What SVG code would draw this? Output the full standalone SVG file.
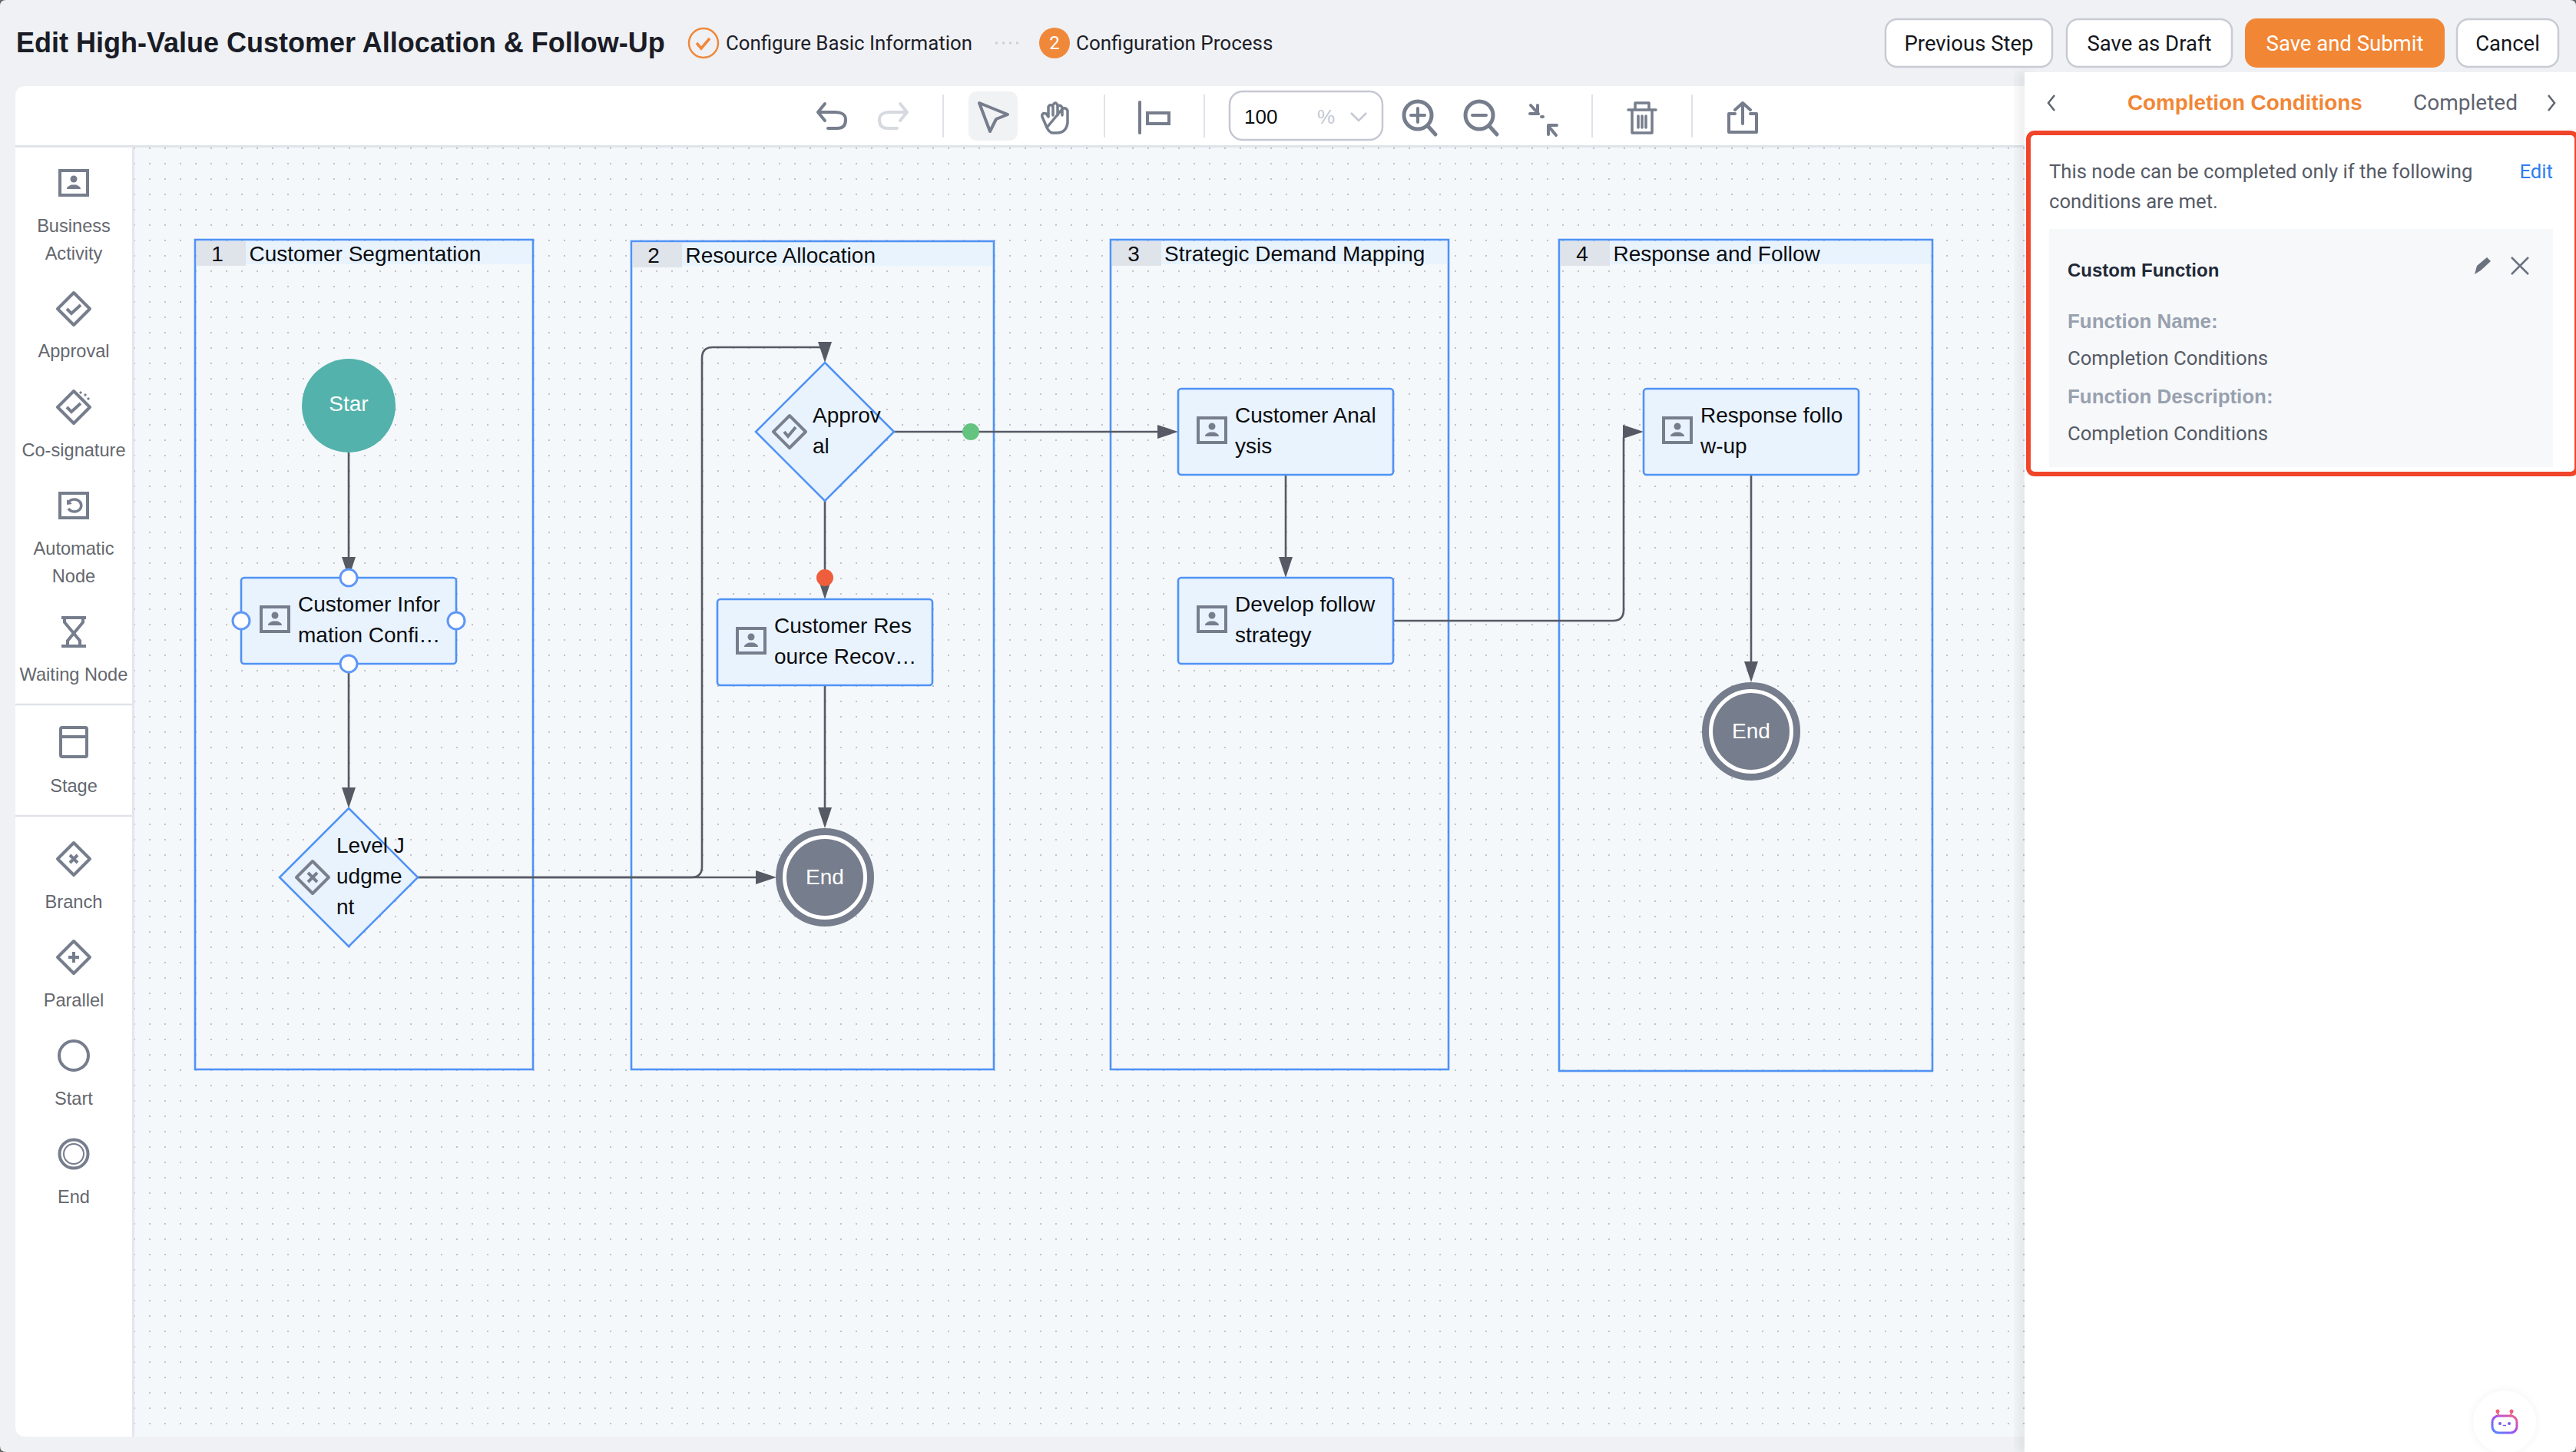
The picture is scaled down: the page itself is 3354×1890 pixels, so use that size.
<svg xmlns="http://www.w3.org/2000/svg" width="3354" height="1890" viewBox="0 0 3354 1890">
<style>
text{font-family:"Liberation Sans",Arial,sans-serif}
.ui{font-family:Roboto,"Liberation Sans",sans-serif}
.lane{fill:none;stroke:#5092f5;stroke-width:2.6}
.lh{fill:#e8f3fe}
.ln{fill:#dfe3ea}
.t{font-size:28px;fill:#0c0d10}
.tc{text-anchor:middle}
.node{fill:#e9f3fe;stroke:#5092f5;stroke-width:2.6}
.port{fill:#fff;stroke:#5f97f7;stroke-width:3}
.conn{fill:none;stroke:#565a64;stroke-width:2.6;marker-end:url(#arrow)}
.ic{fill:none;stroke:#767d8c;stroke-width:4}
.icf{fill:#767d8c}
.sb{font-size:23.6px;fill:#64676e;text-anchor:middle}
.sep{stroke:#dfe2e8;stroke-width:2}
.tool{fill:none;stroke:#767d8c;stroke-width:4;stroke-linecap:round;stroke-linejoin:round}
.btn{fill:#fff;stroke:#c8cbd4;stroke-width:2.5}
.bt{font-size:27.5px;fill:#15171c;text-anchor:middle}
.pt{font-size:25.7px;fill:#565b66}
.pl{font-size:25.9px;fill:#98a1af;font-weight:700}
.end-o{fill:#fff;stroke:#767d8c;stroke-width:9}
.end-i{fill:#767d8c}
.wt{font-size:28px;fill:#fff;text-anchor:middle}
</style>
<defs>
<pattern id="dots" x="14" y="12" width="20" height="20" patternUnits="userSpaceOnUse"><rect width="2" height="2" fill="#bfc3ca"/></pattern>
<marker id="arrow" markerUnits="userSpaceOnUse" markerWidth="27" markerHeight="18" refX="15" refY="9" orient="auto"><path d="M0 0L27 9L0 18Z" fill="#565a64"/></marker>
<g id="person"><rect x="2" y="2" width="36" height="32" class="ic"/><circle cx="20" cy="13" r="4.500000" class="icf"/><path d="M11 26c0-3 3-4 6-5.500000h6c3 1.500000 6 2.500000 6 5.500000z" class="icf"/></g>
<linearGradient id="bot" x1="0" y1="1" x2="1" y2="0"><stop offset="0" stop-color="#4a8cff"/><stop offset=".5" stop-color="#a04ff0"/><stop offset="1" stop-color="#f0608a"/></linearGradient>
<filter id="soft" x="-20%" y="-20%" width="140%" height="140%"><feGaussianBlur stdDeviation="6"/></filter>
</defs>

<rect width="3354" height="1890" fill="#eff1f4"/>
<g id="canvas">
<path d="M34 112H2700V1870H34Q20 1870 20 1856V126Q20 112 34 112Z" fill="#fff"/>
<rect x="174" y="192" width="2520" height="1678" fill="#f4f8fb"/>
<rect x="174" y="192" width="2520" height="1678" fill="url(#dots)"/>
<rect x="20" y="189" width="2620" height="3" fill="#dfe3ea"/>
<rect x="172" y="192" width="3" height="1678" fill="#e3e6ec"/>
</g>

<g id="header">
<text x="21" y="68" font-size="36" font-weight="700" fill="#1a1c26">Edit High-Value Customer Allocation &amp; Follow-Up</text>
<circle cx="916" cy="56" r="19" fill="none" stroke="#f0883a" stroke-width="2.5"/>
<path d="M907 56l6 7 11-13" fill="none" stroke="#f0883a" stroke-width="3.5"/>
<text x="945" y="65" font-size="25.8" fill="#1e2028" class="ui">Configure Basic Information</text>
<path d="M1296 56H1332" stroke="#ccd0d8" stroke-width="3" stroke-dasharray="3 6"/>
<circle cx="1373" cy="56" r="20" fill="#f0883a"/>
<text x="1373" y="64" font-size="24" fill="#fff" text-anchor="middle" class="ui">2</text>
<text x="1401" y="65" font-size="26" fill="#1e2028" class="ui">Configuration Process</text>
<rect x="2455" y="25" width="217" height="62" rx="15" class="btn"/><text x="2563.500000" y="66" class="bt ui">Previous Step</text>
<rect x="2691" y="25" width="215" height="62" rx="15" class="btn"/><text x="2798.500000" y="66" class="bt ui">Save as Draft</text>
<rect x="2923" y="24" width="260" height="64" rx="15" fill="#f18635"/><text x="3053" y="66" class="bt ui" style="fill:#fff">Save and Submit</text>
<rect x="3199" y="25" width="132" height="62" rx="15" class="btn"/><text x="3265" y="66" class="bt ui">Cancel</text>
</g>

<g id="toolbar">
<path d="M1074 135L1065 146L1074 157M1066 146H1086C1098 146 1101 150 1101 156C1101 163 1098 167 1090 167H1078" class="tool"/>
<path d="M1172 135L1181 146L1172 157M1180 146H1160C1148 146 1145 150 1145 156C1145 163 1148 167 1156 167H1168" class="tool" style="stroke:#d6d9df"/>
<path d="M1228 123V179M1438 123V179M1568 123V179M2073 123V179M2203 123V179" class="sep"/>
<rect x="1261" y="119" width="64" height="64" rx="10" fill="#f1f2f4"/>
<path d="M1275 134L1312 149L1297 155L1289 171Z" class="tool"/>
<path d="M1363 166L1357 152Q1356 146 1362 148L1365 152V139Q1368 134 1371 139V150M1371 137Q1374 131 1377 137V150M1377 139Q1380 135 1383 140V150M1383 142Q1388 139 1390 144V160Q1388 173 1376 173H1370Q1366 172 1363 166Z" class="tool" style="stroke-width:3.5"/>
<path d="M1484 133V173" class="tool"/>
<rect x="1494" y="147" width="28" height="14" class="tool" style="stroke-linecap:butt;stroke-linejoin:miter"/>
<rect x="1601" y="119" width="199" height="63" rx="17" fill="#fff" stroke="#c5c8d3" stroke-width="2.5"/>
<text x="1620" y="161" font-size="26" fill="#0c0d10">100</text>
<text x="1715" y="161" font-size="26" fill="#c5c8d3">%</text>
<path d="M1759 147L1769 157L1779 147" fill="none" stroke="#c5c8d3" stroke-width="2.5"/>
<circle cx="1846" cy="150" r="18" class="tool" style="stroke-width:5"/><path d="M1859 164L1869 175" class="tool" style="stroke-width:5"/><path d="M1837 150H1855M1846 141V159" class="tool"/>
<circle cx="1926" cy="150" r="18" class="tool" style="stroke-width:5"/><path d="M1939 164L1949 175" class="tool" style="stroke-width:5"/><path d="M1917 150H1935" class="tool"/>
<path d="M1993 137L2003 148M2002 137V148H1992M2026 176L2016 164M2016 175V163H2027M2007 152H2009" class="tool"/>
<path d="M2120 143H2156M2129 143V134H2147V143M2125 144V173H2151V144M2133 151V166M2138 151V166M2143 151V166" class="tool" style="stroke-width:3.5"/>
<path d="M2259 148H2251V172H2287V148H2279M2269 161V134M2259 143L2269 134L2279 143" class="tool"/>
</g>

<g id="sidebar">
<g id="tool-business"><use href="#person" x="76" y="220"/><text x="96" y="302" class="sb">Business</text><text x="96" y="338" class="sb">Activity</text></g>
<g id="tool-approval"><path d="M96 381L117 402L96 423L75 402Z" class="ic" style="stroke-linejoin:round"/><path d="M87 402L93 408L105 397" class="ic"/><text x="96" y="465" class="sb">Approval</text></g>
<g id="tool-cosign"><path d="M96 509L117 530L96 551L75 530Z" class="ic" style="stroke-linejoin:round"/><path d="M87 530L93 536L105 525" class="ic"/><path d="M104 510l2 2M110 513l2 2M114 518l2 2" class="ic" style="stroke-width:3"/><text x="96" y="594" class="sb">Co-signature</text></g>
<g id="tool-auto"><rect x="78" y="642" width="36" height="32" class="ic"/><path d="M89 654A9 8 0 1 1 89 662" class="ic" style="stroke-width:3.5"/><path d="M87 650L87 657L94 656Z" class="icf"/><text x="96" y="722" class="sb">Automatic</text><text x="96" y="758" class="sb">Node</text></g>
<g id="tool-wait"><path d="M80 804H112M80 841H112M84 804L84 810L104 834V841M108 804V810L88 834V841" class="ic" style="stroke-linejoin:round"/><text x="96" y="886" class="sb">Waiting Node</text></g>
<path d="M20 917H172M20 1062H172" stroke="#e0e3e9" stroke-width="2.5"/>
<g id="tool-stage"><rect x="79" y="947" width="34" height="38" rx="2" class="ic"/><path d="M79 959H113" class="ic"/><text x="96" y="1031" class="sb">Stage</text></g>
<g id="tool-branch"><path d="M96 1097L117 1118L96 1139L75 1118Z" class="ic" style="stroke-linejoin:round"/><path d="M91 1113L101 1123M101 1113L91 1123" class="ic"/><text x="96" y="1182" class="sb">Branch</text></g>
<g id="tool-parallel"><path d="M96 1225L117 1246L96 1267L75 1246Z" class="ic" style="stroke-linejoin:round"/><path d="M89 1246H103M96 1239V1253" class="ic"/><text x="96" y="1310" class="sb">Parallel</text></g>
<g id="tool-start"><circle cx="96" cy="1374" r="19" class="ic"/><text x="96" y="1438" class="sb">Start</text></g>
<g id="tool-end"><circle cx="96" cy="1502" r="18.500000" class="ic"/><circle cx="96" cy="1502" r="13" class="ic" style="stroke-width:2"/><text x="96" y="1566" class="sb">End</text></g>
</g>

<g id="lane-1"><rect x="254" y="312" width="440" height="1080" class="lane"/><rect x="256" y="314" width="436" height="30" class="lh"/><rect x="256" y="314" width="64" height="32" class="ln"/><text x="283" y="340" class="t tc">1</text><text x="324.500000" y="340" class="t">Customer Segmentation</text></g>
<g id="lane-2"><rect x="822" y="314" width="472" height="1078" class="lane"/><rect x="824" y="316" width="468" height="30" class="lh"/><rect x="824" y="316" width="64" height="32" class="ln"/><text x="851" y="342" class="t tc">2</text><text x="892.500000" y="342" class="t">Resource Allocation</text></g>
<g id="lane-3"><rect x="1446" y="312" width="440" height="1080" class="lane"/><rect x="1448" y="314" width="436" height="30" class="lh"/><rect x="1448" y="314" width="64" height="32" class="ln"/><text x="1476" y="340" class="t tc">3</text><text x="1516" y="340" class="t">Strategic Demand Mapping</text></g>
<g id="lane-4"><rect x="2030" y="312" width="486" height="1082" class="lane"/><rect x="2032" y="314" width="482" height="30" class="lh"/><rect x="2032" y="314" width="64" height="32" class="ln"/><text x="2060" y="340" class="t tc">4</text><text x="2100.500000" y="340" class="t">Response and Follow</text></g>

<g id="connectors">
<path d="M454 589V740" class="conn"/>
<path d="M454 864V1040" class="conn"/>
<path d="M544 1142H999" class="conn"/>
<path d="M544 1142H900Q914 1142 914 1128V466Q914 452 928 452H1066Q1074 452 1074 460" class="conn"/>
<path d="M1164 562H1522" class="conn"/>
<path d="M1074 652V768" class="conn"/>
<path d="M1074 892V1066" class="conn"/>
<path d="M1674 618V740" class="conn"/>
<path d="M1814 808H2100Q2114 808 2114 794V570Q2114 562 2122 562H2128" class="conn"/>
<path d="M2280 618V876" class="conn"/>
<circle cx="1264" cy="562" r="11" fill="#64c37f"/>
<circle cx="1074" cy="752" r="11" fill="#ef5e3c"/>
</g>

<g id="n-start"><circle cx="454" cy="528" r="61" fill="#53b2ab"/><text x="454" y="535" class="wt">Star</text></g>
<g id="n-info"><rect x="314" y="752" width="280" height="112" rx="4" class="node"/><use href="#person" x="338" y="788"/><text x="388" y="796" class="t">Customer Infor</text><text x="388" y="836" class="t">mation Confi…</text>
<circle cx="454" cy="752" r="11" class="port"/><circle cx="454" cy="864" r="11" class="port"/><circle cx="314" cy="808" r="11" class="port"/><circle cx="594" cy="808" r="11" class="port"/></g>
<g id="n-level"><path d="M454 1052L544 1142L454 1232L364 1142Z" class="node"/><path d="M407 1121L428 1142L407 1163L386 1142Z" class="ic" style="stroke:#7a808d;stroke-linejoin:round"/><path d="M401 1136L413 1148M413 1136L401 1148" class="ic"/><text x="438" y="1110" class="t">Level J</text><text x="438" y="1150" class="t">udgme</text><text x="438" y="1190" class="t">nt</text></g>
<g id="n-end-1"><circle cx="1074" cy="1142" r="59.500000" class="end-o"/><circle cx="1074" cy="1142" r="50" class="end-i"/><text x="1074" y="1151" class="wt">End</text></g>
<g id="n-approval"><path d="M1074 472L1164 562L1074 652L984 562Z" class="node"/><path d="M1028 541L1049 562L1028 583L1007 562Z" class="ic" style="stroke:#7a808d;stroke-linejoin:round"/><path d="M1021 562L1026 568L1036 556" class="ic"/><text x="1058" y="550" class="t">Approv</text><text x="1058" y="590" class="t">al</text></g>
<g id="n-recovery"><rect x="934" y="780" width="280" height="112" rx="4" class="node"/><use href="#person" x="958" y="816"/><text x="1008" y="824" class="t">Customer Res</text><text x="1008" y="864" class="t">ource Recov…</text></g>
<g id="n-analysis"><rect x="1534" y="506" width="280" height="112" rx="4" class="node"/><use href="#person" x="1558" y="542"/><text x="1608" y="550" class="t">Customer Anal</text><text x="1608" y="590" class="t">ysis</text></g>
<g id="n-strategy"><rect x="1534" y="752" width="280" height="112" rx="4" class="node"/><use href="#person" x="1558" y="788"/><text x="1608" y="796" class="t">Develop follow</text><text x="1608" y="836" class="t">strategy</text></g>
<g id="n-response"><rect x="2140" y="506" width="280" height="112" rx="4" class="node"/><use href="#person" x="2164" y="542"/><text x="2214" y="550" class="t">Response follo</text><text x="2214" y="590" class="t">w-up</text></g>
<g id="n-end-2"><circle cx="2280" cy="952" r="59.500000" class="end-o"/><circle cx="2280" cy="952" r="50" class="end-i"/><text x="2280" y="961" class="wt">End</text></g>

<g id="panel">
<rect x="2626" y="94" width="20" height="1796" fill="#000" opacity=".06" filter="url(#soft)"/>
<rect x="2636" y="94" width="718" height="1796" fill="#fff"/>
<path d="M2675 124L2667 134L2675 144" fill="none" stroke="#5f6470" stroke-width="2.5"/>
<path d="M3318 124L3326 134L3318 144" fill="none" stroke="#5f6470" stroke-width="2.5"/>
<text x="2770" y="143" font-size="27.8" font-weight="700" fill="#f18635">Completion Conditions</text>
<text x="3142" y="143" font-size="28" fill="#5f6470" class="ui">Completed</text>
<rect x="2641" y="173" width="714" height="444" rx="8" fill="#fff" stroke="#f0452a" stroke-width="6"/>
<text x="2668" y="232" class="pt ui">This node can be completed only if the following</text>
<text x="2668" y="271" class="pt ui">conditions are met.</text>
<text x="3324" y="232" font-size="25.7" fill="#2f7df0" text-anchor="end" class="ui">Edit</text>
<rect x="2668" y="298" width="656" height="310" fill="#f7f8fa"/>
<text x="2692" y="360" font-size="24" font-weight="700" fill="#1f2937">Custom Function</text>
<path d="M3222 357L3225 346L3238 335L3243 340L3230 352Z" fill="#6b7280"/>
<path d="M3270 335L3292 357M3292 335L3270 357" fill="none" stroke="#6b7280" stroke-width="2.5"/>
<text x="2692" y="427" class="pl">Function Name:</text>
<text x="2692" y="475" class="pt ui">Completion Conditions</text>
<text x="2692" y="525" class="pl">Function Description:</text>
<text x="2692" y="573" class="pt ui">Completion Conditions</text>
</g>

<g id="assistant">
<circle cx="3261" cy="1851" r="41" fill="#000" opacity=".05" filter="url(#soft)"/>
<circle cx="3261" cy="1851" r="41" fill="#fff"/>
<rect x="3245" y="1843" width="32" height="22" rx="8" fill="none" stroke="url(#bot)" stroke-width="3"/>
<path d="M3254 1843L3251 1838M3268 1843L3271 1838" stroke="#e8608a" stroke-width="2"/>
<circle cx="3252" cy="1837" r="2.500000" fill="#f0607a"/><circle cx="3270" cy="1837" r="2.500000" fill="#f0607a"/>
<circle cx="3255" cy="1853" r="2" fill="#7a5cf0"/><circle cx="3267" cy="1853" r="2" fill="#7a5cf0"/><path d="M3259 1855.500000H3263" stroke="#7a5cf0" stroke-width="1.500000"/>
</g>
<path fill-rule="evenodd" d="M0 0H3354V1890H0ZM8 0Q0 0 0 8V1882Q0 1890 8 1890H3346Q3354 1890 3354 1882V8Q3354 0 3346 0Z" fill="#666"/>
</svg>
